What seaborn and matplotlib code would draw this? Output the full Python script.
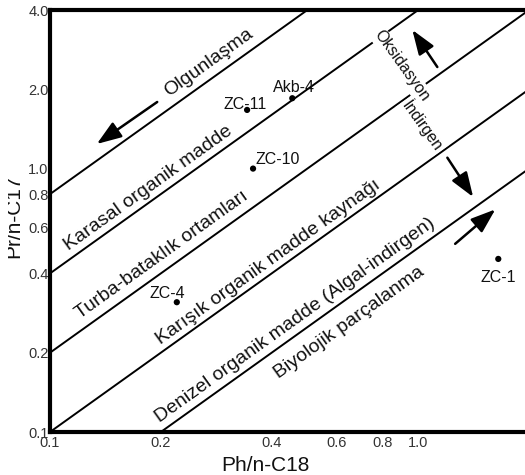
import matplotlib
matplotlib.use("Agg")
import matplotlib.pyplot as plt
import seaborn as sns
import numpy as np
import pandas as pd
from matplotlib.patches import Rectangle

# ---------------- data ----------------
samples = ["Akb-4", "ZC-11", "ZC-10", "ZC-4", "ZC-1"]
ph_c18 = [0.455, 0.343, 0.356, 0.221, 1.65]
pr_c17 = [1.85, 1.67, 1.00, 0.311, 0.454]

boundary_ratios = [8, 4, 2, 1, 0.5]          # Pr/n-C17 = k * Ph/n-C18
boundary_x = [0.1, 2.0]

x_ticks = [0.1, 0.2, 0.4, 0.6, 0.8, 1.0]
x_tick_labels = ["0.1", "0.2", "0.4", "0.6", "0.8", "1.0"]
y_ticks = [0.1, 0.2, 0.4, 0.6, 0.8, 1.0, 2.0, 4.0]
y_tick_labels = ["0.1", "0.2", "0.4", "0.6", "0.8", "1.0", "2.0", "4.0"]

zone_labels = ["Olgunlaşma", "Karasal organik madde", "Turba-bataklık ortamları",
               "Karışık organik madde kaynağı", "Denizel organik madde (Algal-indirgen)",
               "Biyolojik parçalanma"]
side_labels = ["Oksidasyon", "İndirgen"]

# ---------------- layout / style ----------------
zone_pos = [(0.270, 2.52), (0.1845, 0.843), (0.201, 0.470), (0.391, 0.442),
            (0.464, 0.266), (0.649, 0.259)]
side_pos = [(0.90, 2.45), (1.025, 1.45)]
arrows = [((0.1955, 1.79), (0.134, 1.24)),
          ((1.127, 2.43), (0.964, 3.36)),
          ((1.20, 1.10), (1.41, 0.78)),
          ((1.26, 0.518), (1.62, 0.70))]
label_offsets = {"Akb-4": (1, 4.5, "center"), "ZC-11": (-1.5, 0.5, "center"),
                 "ZC-10": (1.5, 3, "left"), "ZC-4": (-6.5, 3, "center"),
                 "ZC-1": (0, -16.5, "center")}

sns.set_style("white")
plt.rcParams["font.family"] = ["Liberation Sans", "DejaVu Sans"]

fig = plt.figure(figsize=(5.25, 4.75), dpi=100)
ax = fig.add_axes([50 / 525, 43 / 475, 475 / 525, 422 / 475])
ax.set_xscale("log")
ax.set_yscale("log")
ax.set_xlim(0.1, 1.95)
ax.set_ylim(0.1, 4.0)

# boundary lines
rows = []
for k in boundary_ratios:
    for xv in boundary_x:
        rows.append({"x": xv, "y": k * xv, "k": str(k)})
lines_df = pd.DataFrame(rows)
sns.lineplot(data=lines_df, x="x", y="y", units="k", estimator=None,
             color="black", lw=1.4, ax=ax, zorder=2, legend=False)

# samples
pts = pd.DataFrame({"ph": ph_c18, "pr": pr_c17, "name": samples})
sns.scatterplot(data=pts, x="ph", y="pr", color="black", s=20,
                edgecolor="none", ax=ax, zorder=4, legend=False)
for name, xv, yv in zip(samples, ph_c18, pr_c17):
    dx, dy, ha = label_offsets[name]
    ax.annotate(name, (xv, yv), xytext=(dx, dy), textcoords="offset points",
                ha=ha, va="baseline", fontsize=11.5, color="#111111", zorder=5)

ax.set_xticks(x_ticks)
ax.set_xticklabels(x_tick_labels)
ax.set_yticks(y_ticks)
ax.set_yticklabels(y_tick_labels)
ax.minorticks_off()
ax.tick_params(axis="both", which="major", direction="in", length=6, width=2,
               colors="black", labelcolor="#333333", labelsize=10.5)
ax.tick_params(axis="y", pad=1)
ax.tick_params(axis="x", pad=3)

for side in ["left", "bottom", "top"]:
    ax.spines[side].set_linewidth(3)
    ax.spines[side].set_color("black")
ax.spines["right"].set_visible(False)

ax.set_xlabel("Ph/n-C18", fontsize=15, color="#111111")
ax.set_ylabel("Pr/n-C17", fontsize=15, color="#111111")
ax.xaxis.set_label_coords(0.453, -0.058)
ax.yaxis.set_label_coords(-0.057, 0.512)

# rotation angle of the boundary lines on screen
p1 = ax.transData.transform((0.1, 0.1))
p2 = ax.transData.transform((1.0, 1.0))
ang = np.degrees(np.arctan2(p2[1] - p1[1], p2[0] - p1[0]))

for txt, (xv, yv) in zip(zone_labels, zone_pos):
    ax.text(xv, yv, txt, rotation=ang, rotation_mode="anchor", ha="center",
            va="center", fontsize=14, color="#111111", zorder=3)
for txt, (xv, yv) in zip(side_labels, side_pos):
    ax.text(xv, yv, txt, rotation=ang - 90, rotation_mode="anchor", ha="center",
            va="center", fontsize=11.5, color="#111111", zorder=3,
            bbox=dict(facecolor="white", edgecolor="none", pad=1.5))

for (tail, head) in arrows:
    ax.annotate("", xy=head, xytext=tail,
                arrowprops=dict(arrowstyle="-|>,head_length=0.75,head_width=0.27",
                                color="black", lw=1.8,
                                mutation_scale=20, shrinkA=0, shrinkB=0),
                zorder=3)

fig.add_artist(Rectangle((0, 0), 8 / 525, 1, transform=fig.transFigure,
                         facecolor="white", edgecolor="none", zorder=10))

fig.savefig("out.png", dpi=100)
